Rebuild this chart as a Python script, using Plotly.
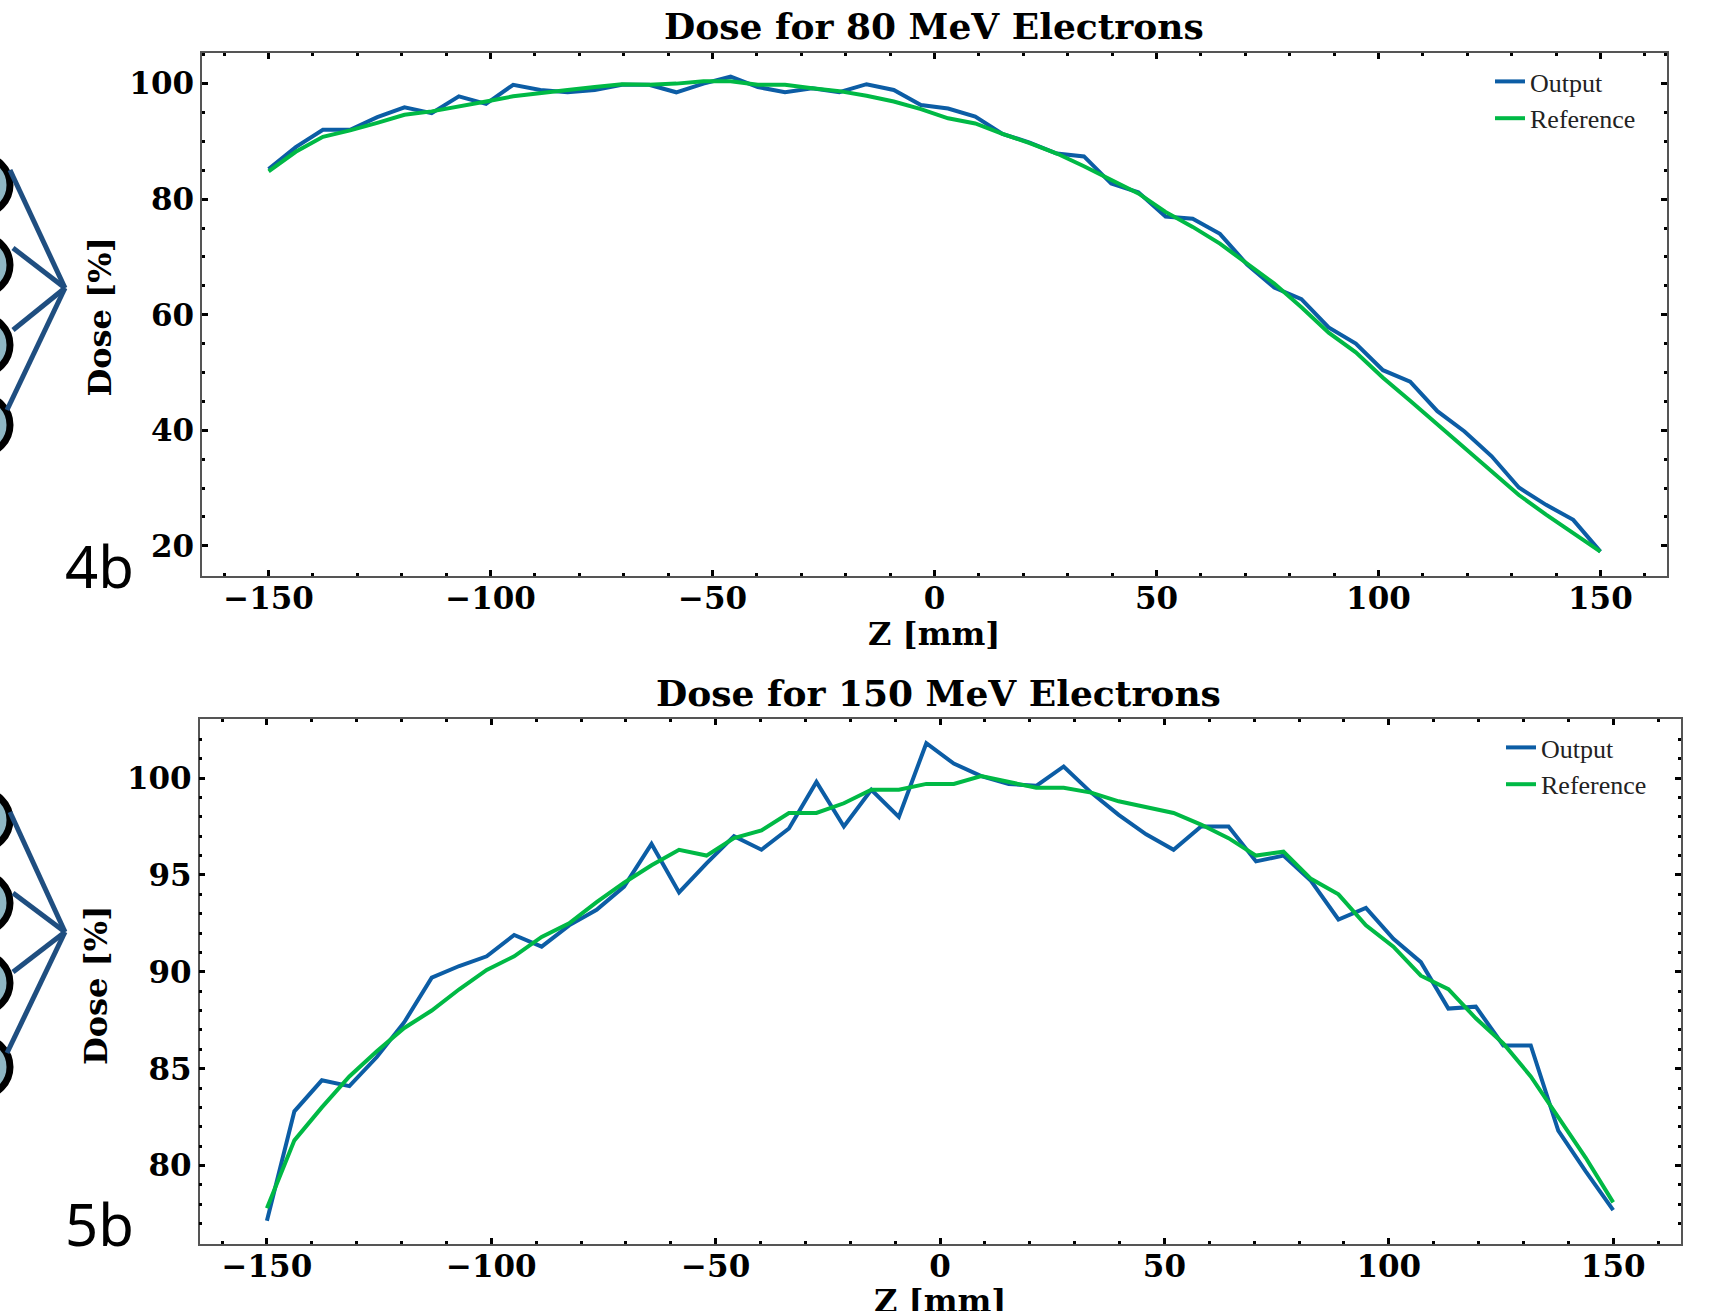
import plotly.graph_objects as go

# ---------------- data ----------------
z_mm = [-150.00, -143.88, -137.76, -131.63, -125.51, -119.39, -113.27, -107.14, -101.02, -94.90,
        -88.78, -82.65, -76.53, -70.41, -64.29, -58.16, -52.04, -45.92, -39.80, -33.67,
        -27.55, -21.43, -15.31, -9.18, -3.06, 3.06, 9.18, 15.31, 21.43, 27.55,
        33.67, 39.80, 45.92, 52.04, 58.16, 64.29, 70.41, 76.53, 82.65, 88.78,
        94.90, 101.02, 107.14, 113.27, 119.39, 125.51, 131.63, 137.76, 143.88, 150.00]

output_80 = [85.2, 89.0, 92.0, 92.0, 94.2, 95.9, 94.9, 97.8, 96.5, 99.8,
             98.9, 98.5, 98.9, 99.8, 99.8, 98.5, 100.0, 101.2, 99.4, 98.5,
             99.2, 98.5, 99.9, 98.9, 96.3, 95.7, 94.3, 91.3, 89.8, 87.9,
             87.4, 82.7, 81.2, 77.0, 76.6, 74.0, 68.7, 64.7, 62.7, 57.8,
             55.0, 50.4, 48.4, 43.3, 39.8, 35.5, 30.1, 27.1, 24.5, 19.0]

reference_80 = [84.8, 88.2, 90.8, 91.9, 93.2, 94.6, 95.2, 96.0, 96.9, 97.8,
                98.4, 98.9, 99.4, 99.9, 99.8, 100.0, 100.4, 100.4, 99.8, 99.8,
                99.2, 98.7, 97.9, 96.9, 95.6, 94.0, 93.1, 91.3, 89.7, 87.9,
                85.7, 83.3, 81.0, 77.8, 75.2, 72.3, 68.8, 65.4, 61.3, 56.9,
                53.5, 49.1, 45.1, 41.0, 36.9, 32.9, 28.8, 25.4, 22.2, 19.0]

output_150 = [77.15, 82.8, 84.4, 84.1, 85.6, 87.4, 89.7, 90.3, 90.8, 91.9,
              91.3, 92.4, 93.2, 94.4, 96.6, 94.1, 95.6, 97.0, 96.3, 97.4,
              99.8, 97.5, 99.4, 98.0, 101.8, 100.75, 100.1, 99.7, 99.6, 100.6,
              99.25, 98.1, 97.1, 96.3, 97.5, 97.5, 95.7, 96.0, 94.7, 92.7,
              93.3, 91.7, 90.5, 88.1, 88.2, 86.2, 86.2, 81.8, 79.7, 77.7]

reference_150 = [77.8, 81.3, 83.0, 84.6, 85.9, 87.1, 88.0, 89.1, 90.1, 90.8,
                 91.8, 92.5, 93.6, 94.6, 95.5, 96.3, 96.0, 96.9, 97.3, 98.2,
                 98.2, 98.7, 99.4, 99.4, 99.7, 99.7, 100.1, 99.8, 99.5, 99.5,
                 99.25, 98.8, 98.5, 98.2, 97.6, 96.9, 96.0, 96.2, 94.8, 94.0,
                 92.4, 91.3, 89.8, 89.1, 87.6, 86.3, 84.6, 82.5, 80.4, 78.1]

titles = ["Dose for 80 MeV Electrons", "Dose for 150 MeV Electrons"]
series_names = ["Output", "Reference"]
x_label = "Z [mm]"
y_label = "Dose [%]"
panel_labels = ["4b", "5b"]

# ---------------- styling ----------------
W, H = 1729, 1311
BLUE = "#0C5DA5"
GREEN = "#00B945"
LW = 4


def px(x):
    return x / W


def py(y):
    return 1 - y / H


tick_font = dict(family="DejaVu Serif", size=31, color="black", weight="bold")
label_font = dict(family="DejaVu Serif", size=32, color="black", weight="bold")
title_font = dict(family="DejaVu Serif", size=36, color="black", weight="bold")
legend_font = dict(family="Liberation Serif", size=26, color="#222222")

fig = go.Figure()
fig.add_trace(go.Scatter(x=z_mm, y=output_80, mode="lines", name=series_names[0],
                         line=dict(color=BLUE, width=LW), xaxis="x", yaxis="y", legend="legend"))
fig.add_trace(go.Scatter(x=z_mm, y=reference_80, mode="lines", name=series_names[1],
                         line=dict(color=GREEN, width=LW), xaxis="x", yaxis="y", legend="legend"))
fig.add_trace(go.Scatter(x=z_mm, y=output_150, mode="lines", name=series_names[0],
                         line=dict(color=BLUE, width=LW), xaxis="x2", yaxis="y2", legend="legend2"))
fig.add_trace(go.Scatter(x=z_mm, y=reference_150, mode="lines", name=series_names[1],
                         line=dict(color=GREEN, width=LW), xaxis="x2", yaxis="y2", legend="legend2"))


def axis_style(dtick, minor_dtick, standoff=0):
    return dict(
        showline=True, linecolor="#555555", linewidth=1.5, mirror="allticks",
        ticks="inside", ticklen=6, tickwidth=3, tickcolor="black",
        minor=dict(ticks="inside", ticklen=3, tickwidth=2.5, tickcolor="black", dtick=minor_dtick),
        dtick=dtick, tick0=0, showgrid=False, zeroline=False,
        tickfont=tick_font, fixedrange=True, ticklabelstandoff=standoff,
    )


fig.update_layout(
    width=W, height=H,
    margin=dict(l=0, r=0, t=0, b=0),
    paper_bgcolor="white", plot_bgcolor="white",
    xaxis=dict(domain=[px(202), px(1667)], range=[-165, 165], anchor="y", **axis_style(50, 10, -6)),
    yaxis=dict(domain=[py(575.6), py(53)], range=[14.85, 105.3], anchor="x", **axis_style(20, 5)),
    xaxis2=dict(domain=[px(199.6), px(1680.5)], range=[-165, 165], anchor="y2", **axis_style(50, 10, -6)),
    yaxis2=dict(domain=[py(1244), py(719)], range=[75.95, 103.05], anchor="x2", **axis_style(5, 1)),
    legend=dict(x=px(1490), y=py(58), xanchor="left", yanchor="top", font=legend_font,
                bgcolor="rgba(0,0,0,0)", tracegroupgap=0),
    legend2=dict(x=px(1501), y=py(724), xanchor="left", yanchor="top", font=legend_font,
                 bgcolor="rgba(0,0,0,0)", tracegroupgap=0),
    showlegend=True,
)

annotations = [
    dict(text=titles[0], x=px(934), y=py(26.5), font=title_font),
    dict(text=x_label, x=px(934), y=py(634), font=label_font),
    dict(text=y_label, x=px(100), y=py(317.5), font=label_font, textangle=-90),
    dict(text=titles[1], x=px(938), y=py(692.5), font=title_font),
    dict(text=x_label, x=px(940), y=py(1301), font=label_font),
    dict(text=y_label, x=px(96), y=py(986), font=label_font, textangle=-90),
    dict(text=panel_labels[0], x=px(99), y=py(566), font=dict(family="Noto Sans", size=58, color="black")),
    dict(text=panel_labels[1], x=px(99), y=py(1223), font=dict(family="Noto Sans", size=58, color="black")),
]
for a in annotations:
    a.update(xref="paper", yref="paper", showarrow=False, xanchor="center", yanchor="middle")
fig.update_layout(annotations=annotations)

# decorative network nodes on the left edge (part of the original composite)
shapes = []
R = 29
for centers, hub, starts in [
    ([185, 265, 345, 425], (65, 288), [(10, 170), (13, 248), (13, 330), (7, 410)]),
    ([820, 903, 983, 1067], (65, 932), [(10, 812), (13, 893), (13, 972), (7, 1053)]),
]:
    for cy in centers:
        shapes.append(dict(type="circle", xref="paper", yref="paper",
                           x0=px(-19 - R), x1=px(-19 + R), y0=py(cy + R), y1=py(cy - R),
                           line=dict(color="black", width=7), fillcolor="#8fb7c4"))
    for sx, sy in starts:
        shapes.append(dict(type="line", xref="paper", yref="paper",
                           x0=px(sx), y0=py(sy), x1=px(hub[0]), y1=py(hub[1]),
                           line=dict(color="#1f4e80", width=5)))
fig.update_layout(shapes=shapes)

fig.write_html("out.html")
